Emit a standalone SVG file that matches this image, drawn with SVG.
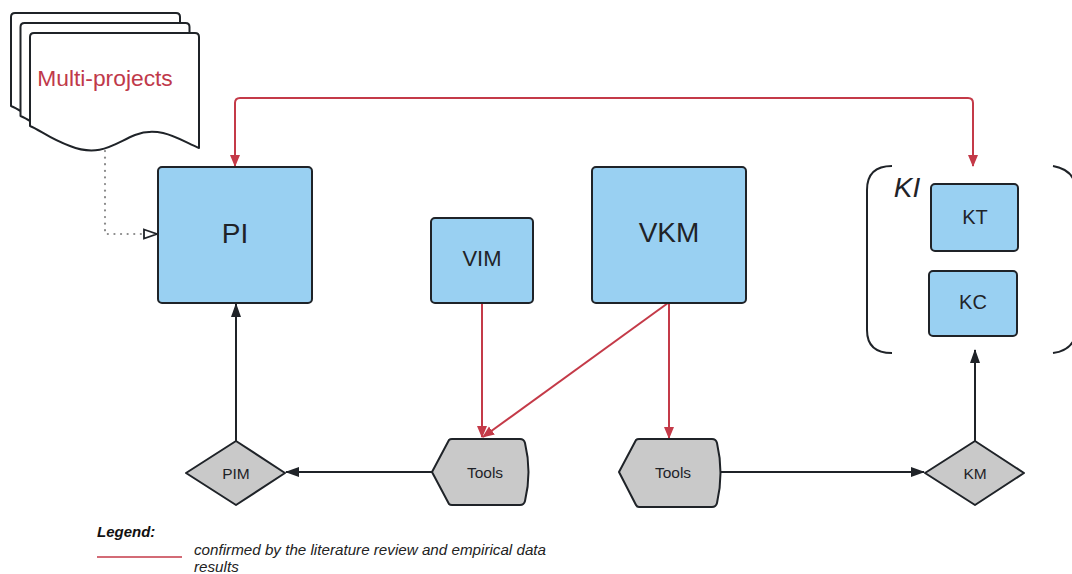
<svg xmlns="http://www.w3.org/2000/svg" width="1072" height="574" viewBox="0 0 1072 574">
  <style>
    .box { fill: #99d0f2; stroke: #1f2328; stroke-width: 2; }
    .gray { fill: #c9c9c9; stroke: #1f2328; stroke-width: 2; stroke-linejoin: round; }
    .page { fill: #ffffff; stroke: #1f2328; stroke-width: 2; stroke-linejoin: round; }
    .lbl { font-family: "Liberation Sans", Arial, sans-serif; fill: #1f2328; text-anchor: middle; dominant-baseline: central; }
    .red { fill: none; stroke: #c43a48; stroke-width: 2; }
    .blk { fill: none; stroke: #1f2328; stroke-width: 2; }
    .dot { fill: none; stroke: #8a8a8a; stroke-width: 2.2; stroke-dasharray: 0.1 6.5; stroke-linecap: round; }
    .brk { fill: none; stroke: #1f2328; stroke-width: 2; }
    .leg { font-family: "Liberation Sans", Arial, sans-serif; font-size: 15.2px; font-style: italic; fill: #222; }
  </style>
  <defs>
    <marker id="arrRed" viewBox="0 0 12 12" refX="11" refY="6" markerWidth="12" markerHeight="12" markerUnits="userSpaceOnUse" orient="auto-start-reverse">
      <path d="M0,1 L12,6 L0,11 Z" fill="#c43a48"/>
    </marker>
    <marker id="arrBlk" viewBox="0 0 14 12" refX="13" refY="6" markerWidth="14" markerHeight="12" markerUnits="userSpaceOnUse" orient="auto">
      <path d="M0,1 L14,6 L0,11 Z" fill="#1f2328"/>
    </marker>
    <marker id="arrOpen" viewBox="0 0 16 12" refX="14" refY="6" markerWidth="16" markerHeight="12" markerUnits="userSpaceOnUse" orient="auto">
      <path d="M1,1.5 L14,6 L1,10.5 Z" fill="#ffffff" stroke="#1f2328" stroke-width="1.8"/>
    </marker>
    <path id="docShape" d="M30,37 Q30,33 34,33 L195,33 Q199,33 199,37 L199,148 C180,140 160,125 135,135 C115,143 100,158 70,146 C50,139 40,130 30,126 Z"/>
  </defs>

  <!-- stacked document -->
  <g id="multi-projects">
    <use href="#docShape" class="page" transform="translate(-19,-20)"/>
    <use href="#docShape" class="page" transform="translate(-9.5,-10)"/>
    <use href="#docShape" class="page"/>
    <text x="105" y="78" class="lbl" style="fill:#c0394a; font-size:22.8px">Multi-projects</text>
  </g>

  <g id="connectors">
    <!-- red -->
    <path class="red" d="M235,166 L235,103 Q235,98 240,98 L968,98 Q973,98 973,103 L973,166" marker-start="url(#arrRed)" marker-end="url(#arrRed)"/>
    <path class="red" d="M482,303 L482,437" marker-end="url(#arrRed)"/>
    <path class="red" d="M668,303 L483,437" marker-end="url(#arrRed)"/>
    <path class="red" d="M669,303 L669,438" marker-end="url(#arrRed)"/>
    <!-- black -->
    <path class="blk" d="M432,472 L286,472" marker-end="url(#arrBlk)"/>
    <path class="blk" d="M236,441 L236,304" marker-end="url(#arrBlk)"/>
    <path class="blk" d="M720,472 L924,472" marker-end="url(#arrBlk)"/>
    <path class="blk" d="M975,441 L975,350" marker-end="url(#arrBlk)"/>
    <!-- dotted -->
    <path class="dot" d="M105,151 L105,234 L144,234"/>
    <path d="M144,234 L157,234" fill="none" stroke="none" marker-end="url(#arrOpen)"/>
  </g>

  <g id="PI">
    <rect class="box" x="158" y="167" width="154" height="136" rx="4"/>
    <text x="235" y="233" class="lbl" style="font-size:28px">PI</text>
  </g>
  <g id="VIM">
    <rect class="box" x="431" y="218" width="102" height="85" rx="4"/>
    <text x="482" y="258" class="lbl" style="font-size:22px">VIM</text>
  </g>
  <g id="VKM">
    <rect class="box" x="592" y="167" width="154" height="136" rx="4"/>
    <text x="669" y="232" class="lbl" style="font-size:28px">VKM</text>
  </g>

  <g id="KI">
    <path class="brk" d="M892,166 Q867,166 867,190 L867,330 Q867,353 892,353"/>
    <path class="brk" d="M1053,166 Q1075,170 1076,190 L1076,330 Q1075,350 1053,353"/>
    <text x="907" y="187" class="lbl" style="font-size:28px; font-style:italic">KI</text>
  </g>
  <g id="KT">
    <rect class="box" x="931" y="184" width="87" height="67" rx="4"/>
    <text x="975" y="217" class="lbl" style="font-size:20px">KT</text>
  </g>
  <g id="KC">
    <rect class="box" x="929" y="271" width="88" height="65" rx="4"/>
    <text x="973" y="302" class="lbl" style="font-size:20px">KC</text>
  </g>

  <g id="PIM">
    <path class="gray" d="M236,441 L285,473 L236,505 L186,473 Z"/>
    <text x="236" y="473" class="lbl" style="font-size:15.5px">PIM</text>
  </g>
  <g id="KM">
    <path class="gray" d="M975,441 L1024,473 L975,505 L925,473 Z"/>
    <text x="975" y="473" class="lbl" style="font-size:15.5px">KM</text>
  </g>
  <g id="tools-1">
    <path class="gray" d="M432,472 L449,440 Q450,439 452,439 L520,439 Q524,439 525,443 Q532,472 525,501 Q524,505 520,505 L452,505 Q450,505 449,504 Z"/>
    <text x="485" y="472" class="lbl" style="font-size:15.5px">Tools</text>
  </g>
  <g id="tools-2">
    <path class="gray" d="M619,472 L636,440 Q637,439 639,439 L712,439 Q716,439 717,443 Q724,473 717,503 Q716,507 712,507 L639,507 Q637,507 636,505 Z"/>
    <text x="673" y="472" class="lbl" style="font-size:15.5px">Tools</text>
  </g>

  <g id="legend">
    <text x="97" y="537" class="leg" style="font-size:15px; font-weight:bold; fill:#111">Legend:</text>
    <line x1="97" y1="557" x2="182" y2="557" stroke="#c43a48" stroke-width="1.5"/>
    <text x="194" y="555" class="leg">confirmed by the literature review and empirical data</text>
    <text x="194" y="572" class="leg">results</text>
  </g>
</svg>
